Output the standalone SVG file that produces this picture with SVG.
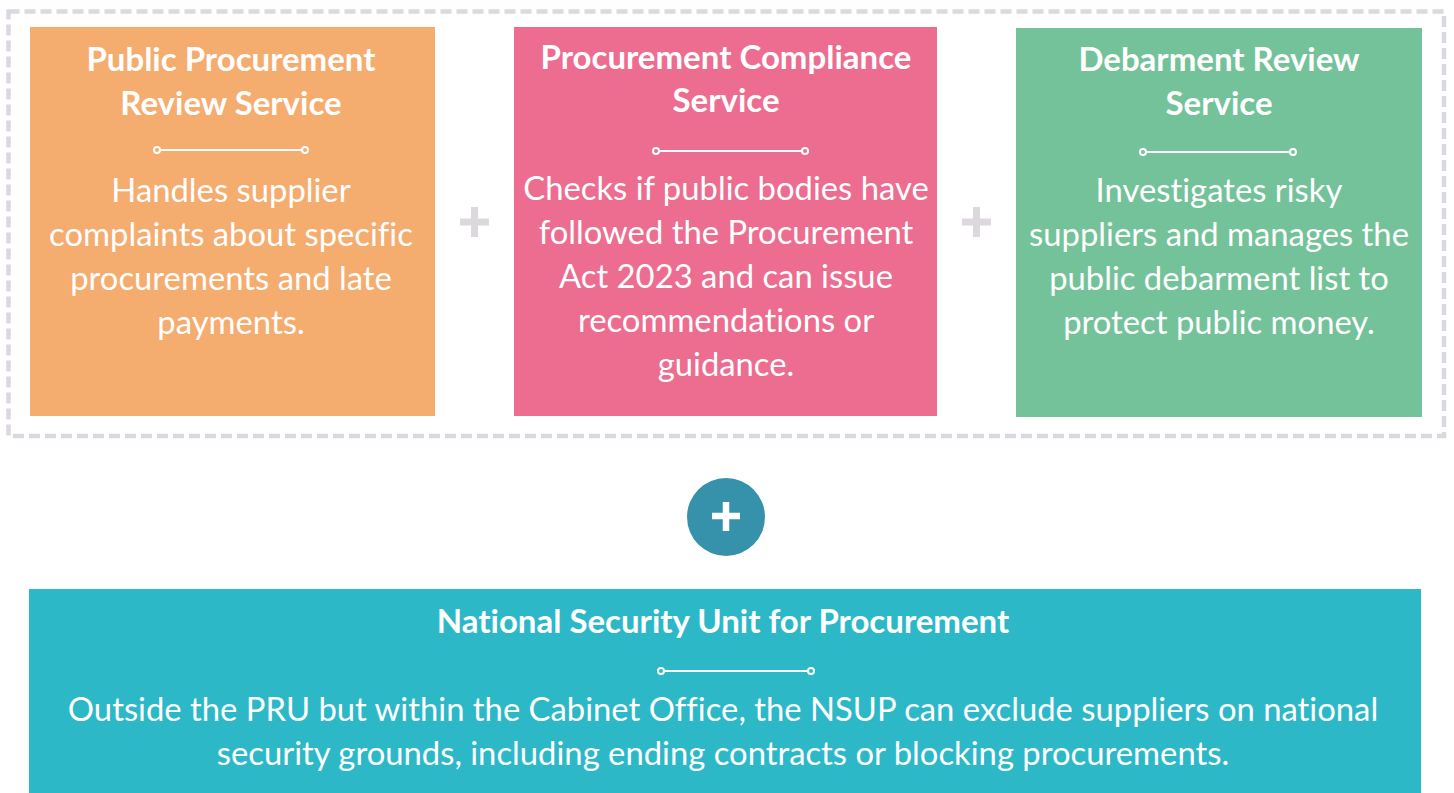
<svg xmlns="http://www.w3.org/2000/svg" width="1454" height="793" viewBox="0 0 1454 793">
<style>
.t{font-family:Lato,"Liberation Sans",sans-serif;font-weight:700;font-size:33px;fill:#fff;text-anchor:middle;font-variant-ligatures:none}
.b{font-family:Lato,"Liberation Sans",sans-serif;font-weight:400;font-size:32.8px;fill:#fff;text-anchor:middle;font-variant-ligatures:none}
.sep line{stroke:#fff;stroke-width:2}
.sep circle{fill:none;stroke:#fff;stroke-width:2}
.pl{stroke:#dcd8de;stroke-width:7}
</style>
<rect width="1454" height="793" fill="#fff"/>
<rect x="8.5" y="11.5" width="1435.5" height="424.5" fill="none" stroke="#ddd8df" stroke-width="4.5" stroke-dasharray="11 5"/>
<g id="connectors">
<g id="plus1"><line class="pl" x1="460" y1="222" x2="489" y2="222"/><line class="pl" x1="474.5" y1="207" x2="474.5" y2="237"/></g>
<g id="plus2"><line class="pl" x1="962" y1="222" x2="991" y2="222"/><line class="pl" x1="976.5" y1="207" x2="976.5" y2="237"/></g>
<g id="plus-circle"><circle cx="726" cy="517" r="39" fill="#3592aa"/><line x1="712" y1="516" x2="740" y2="516" stroke="#fff" stroke-width="6.5"/><line x1="726" y1="502" x2="726" y2="531" stroke="#fff" stroke-width="6.5"/></g>
</g>
<g id="ppr">
<rect x="30" y="27" width="405" height="389" fill="#f5ac6f"/>
<text class="t" x="231" y="71">Public Procurement</text>
<text class="t" x="231" y="115">Review Service</text>
<g class="sep"><line x1="160" y1="150" x2="302" y2="150"/><circle cx="157" cy="150" r="3"/><circle cx="305" cy="150" r="3"/></g>
<text class="b" x="231" y="202">Handles supplier</text>
<text class="b" x="231" y="246">complaints about specific</text>
<text class="b" x="231" y="290">procurements and late</text>
<text class="b" x="231" y="334">payments.</text>
</g>
<g id="pcs">
<rect x="514" y="27" width="423" height="389" fill="#ec6d8f"/>
<text class="t" x="726" y="69">Procurement Compliance</text>
<text class="t" x="726" y="112">Service</text>
<g class="sep"><line x1="659" y1="151" x2="802" y2="151"/><circle cx="656" cy="151" r="3"/><circle cx="805" cy="151" r="3"/></g>
<text class="b" x="726" y="200">Checks if public bodies have</text>
<text class="b" x="726" y="244">followed the Procurement</text>
<text class="b" x="726" y="288">Act 2023 and can issue</text>
<text class="b" x="726" y="332">recommendations or</text>
<text class="b" x="726" y="376">guidance.</text>
</g>
<g id="drs">
<rect x="1016" y="28" width="406" height="389" fill="#74c29a"/>
<text class="t" x="1219" y="71">Debarment Review</text>
<text class="t" x="1219" y="115">Service</text>
<g class="sep"><line x1="1146" y1="152" x2="1290" y2="152"/><circle cx="1143" cy="152" r="3"/><circle cx="1293" cy="152" r="3"/></g>
<text class="b" x="1219" y="202">Investigates risky</text>
<text class="b" x="1219" y="246">suppliers and manages the</text>
<text class="b" x="1219" y="290">public debarment list to</text>
<text class="b" x="1219" y="334">protect public money.</text>
</g>
<g id="nsup">
<rect x="29" y="589" width="1392" height="204" fill="#2db8c8"/>
<text class="t" x="723" y="633">National Security Unit for Procurement</text>
<g class="sep"><line x1="664" y1="671" x2="808" y2="671"/><circle cx="661" cy="671" r="3"/><circle cx="811" cy="671" r="3"/></g>
<text class="b" x="723" y="721">Outside the PRU but within the Cabinet Office, the NSUP can exclude suppliers on national</text>
<text class="b" x="723" y="765">security grounds, including ending contracts or blocking procurements.</text>
</g>
</svg>
